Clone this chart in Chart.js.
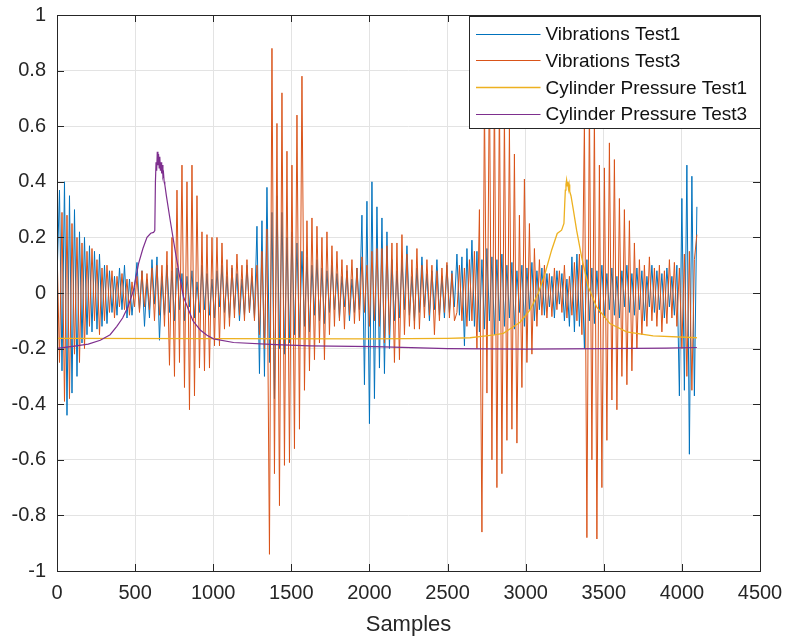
<!DOCTYPE html>
<html>
<head>
<meta charset="utf-8">
<script src="https://cdn.jsdelivr.net/npm/chart.js@4.4.1/dist/chart.umd.min.js"></script>
<style>
  html, body { margin: 0; padding: 0; background: #ffffff; }
  #wrap { width: 785px; height: 639px; }
</style>
</head>
<body>
<div id="wrap"><canvas id="c" width="785" height="639"></canvas></div>
<script>
// Sampling interval of the vibration records (samples between stored values)
const VIB_STEP = 16;

// Vibrations Test1, one value every VIB_STEP samples (0 … 4096)
const vibTest1 = [
  0.05, 0.37, -0.28, 0.40, -0.44, 0.35, -0.36, 0.30, -0.30, 0.22, -0.18, 0.20, -0.15, 0.17, -0.14, 0.15,
  -0.13, 0.14, -0.12, 0.10, -0.11, 0.08, -0.07, 0.06, -0.08, 0.09, -0.06, 0.10, -0.09, 0.05, -0.08, 0.02,
  0.11, -0.06, 0.08, -0.12, 0.05, -0.09, 0.12, -0.04, 0.13, -0.17, 0.06, -0.08, 0.10, -0.07, 0.08, -0.10,
  0.09, -0.06, 0.07, -0.10, 0.06, -0.05, 0.08, -0.09, 0.04, -0.07, 0.10, -0.06, 0.07, -0.08, 0.05, -0.09,
  0.08, -0.05, 0.10, -0.07, 0.06, -0.09, 0.09, -0.06, 0.07, -0.10, 0.05, -0.08, 0.10, -0.07, 0.06, -0.09,
  0.24, -0.29, 0.26, -0.30, 0.38, -0.25, 0.29, -0.38, 0.35, -0.20, 0.29, -0.22, 0.20, -0.18, 0.22, -0.15,
  0.18, -0.16, 0.15, -0.12, 0.13, -0.14, 0.10, -0.08, 0.12, -0.10, 0.09, -0.11, 0.08, -0.07, 0.10, -0.06,
  0.07, -0.09, 0.06, -0.05, 0.08, -0.10, 0.05, -0.07, 0.09, -0.06, 0.28, -0.33, 0.33, -0.47, 0.40, -0.38,
  0.31, -0.27, 0.27, -0.29, 0.22, -0.20, 0.12, -0.10, 0.08, -0.09, 0.12, -0.06, 0.17, -0.08, 0.06, -0.10,
  0.09, -0.07, 0.13, -0.05, 0.07, -0.10, 0.08, -0.06, 0.12, -0.08, 0.06, -0.09, 0.10, -0.07, 0.08, -0.05,
  0.14, -0.08, 0.13, -0.19, 0.16, -0.10, 0.19, -0.12, 0.15, -0.14, 0.12, -0.13, 0.16, -0.10, 0.13, -0.15,
  0.12, -0.10, 0.14, -0.12, 0.10, -0.09, 0.11, -0.13, 0.08, -0.07, 0.10, -0.12, 0.09, -0.06, 0.11, -0.10,
  0.08, -0.06, 0.09, -0.08, 0.07, -0.05, 0.06, -0.09, 0.08, -0.04, 0.07, -0.10, 0.05, -0.12, 0.13, -0.14,
  0.14, -0.12, 0.10, -0.20, 0.12, -0.10, 0.09, -0.11, 0.08, -0.07, 0.10, -0.09, 0.07, -0.06, 0.09, -0.08,
  0.06, -0.09, 0.08, -0.05, 0.10, -0.07, 0.07, -0.08, 0.09, -0.06, 0.08, -0.10, 0.06, -0.05, 0.10, -0.07,
  0.08, -0.06, 0.07, -0.09, 0.09, -0.05, 0.06, -0.08, 0.10, -0.37, 0.34, -0.35, 0.46, -0.58, 0.42, -0.37,
  0.31
];

// Vibrations Test3, one value every VIB_STEP samples (0 … 4096)
const vibTest3 = [
  0.17, -0.25, 0.29, -0.39, 0.28, -0.38, 0.25, -0.22, 0.20, -0.25, 0.18, -0.20, 0.15, -0.12, 0.16, -0.10,
  0.12, -0.15, 0.09, -0.10, 0.10, -0.07, 0.08, -0.09, 0.06, -0.05, 0.07, -0.06, 0.05, -0.08, 0.04, -0.05,
  0.06, -0.07, 0.08, -0.05, 0.07, -0.06, 0.09, -0.10, 0.10, -0.08, 0.10, -0.12, 0.15, -0.26, 0.20, -0.30,
  0.37, -0.25, 0.46, -0.34, 0.40, -0.42, 0.46, -0.37, 0.35, -0.27, 0.22, -0.28, 0.21, -0.27, 0.20, -0.19,
  0.20, -0.19, 0.18, -0.13, 0.12, -0.12, 0.10, -0.09, 0.14, -0.08, 0.10, -0.10, 0.12, -0.07, 0.09, -0.10,
  0.10, -0.15, 0.15, -0.20, 0.23, -0.94, 0.88, -0.65, 0.61, -0.765, 0.72, -0.62, 0.51, -0.61, 0.46, -0.56,
  0.64, -0.49, 0.78, -0.35, 0.26, -0.28, 0.27, -0.24, 0.24, -0.18, 0.20, -0.24, 0.22, -0.15, 0.17, -0.12,
  0.15, -0.10, 0.12, -0.13, 0.10, -0.08, 0.12, -0.11, 0.09, -0.10, 0.13, -0.07, 0.10, -0.12, 0.15, -0.10,
  0.16, -0.12, 0.16, -0.18, 0.17, -0.15, 0.18, -0.25, 0.18, -0.24, 0.21, -0.15, 0.14, -0.12, 0.12, -0.13,
  0.16, -0.13, 0.10, -0.09, 0.12, -0.08, 0.10, -0.15, 0.08, -0.10, 0.09, -0.07, 0.11, -0.09, 0.07, -0.10,
  -0.07, 0.10, -0.10, 0.09, -0.12, 0.12, -0.10, 0.15, -0.20, 0.30, -0.86, 0.70, -0.36, 0.80, -0.60, 0.75,
  -0.70, 0.72, -0.65, 0.65, -0.53, 0.60, -0.49, 0.50, -0.54, 0.28, -0.34, 0.41, -0.25, 0.25, -0.22, 0.16,
  -0.12, 0.12, -0.08, 0.10, -0.09, 0.07, -0.085, 0.09, -0.06, 0.08, -0.07, 0.10, -0.09, 0.06, -0.08, 0.11,
  -0.10, 0.14, -0.15, 0.62, -0.88, 0.70, -0.60, 0.65, -0.885, 0.46, -0.70, 0.45, -0.53, 0.54, -0.385, 0.48,
  -0.42, 0.34, -0.30, 0.30, -0.33, 0.26, -0.28, 0.18, -0.20, 0.12, -0.15, 0.10, -0.12, 0.13, -0.10, 0.09,
  -0.12, 0.10, -0.14, 0.08, -0.11, 0.12, -0.09, 0.11, -0.12, 0.09, -0.20, 0.14, -0.30, 0.15, -0.35, 0.12,
  0.21
];

// Cylinder Pressure Test1: sample positions and values
const presTest1X = [0, 1000, 2000, 2500, 2644, 2719, 2800, 2857, 2911, 2964,
  3028, 3081, 3124, 3166, 3202, 3230, 3245, 3250, 3254, 3258,
  3262, 3266, 3270, 3274, 3278, 3282, 3290, 3305, 3326, 3358,
  3401, 3454, 3539, 3646, 3816, 4096];
const presTest1Y = [-0.163, -0.164, -0.165, -0.163, -0.161, -0.156, -0.151, -0.145, -0.125, -0.105,
  -0.061, 0.0, 0.07, 0.154, 0.214, 0.226, 0.25, 0.32, 0.37, 0.39,
  0.406, 0.385, 0.40, 0.375, 0.39, 0.365, 0.35, 0.30, 0.226, 0.13,
  0.022, -0.05, -0.11, -0.14, -0.154, -0.161];

// Cylinder Pressure Test3: sample positions and values
const presTest3X = [0, 100, 200, 277, 340, 383, 420, 454, 490, 522,
  550, 576, 600, 618, 626, 630, 634, 638, 642, 646,
  650, 654, 658, 662, 666, 670, 674, 678, 682, 686,
  690, 700, 725, 757, 785, 810, 842, 870, 917, 960,
  1002, 1130, 1400, 1620, 2036, 2500, 3000, 3500, 3900, 4096];
const presTest3Y = [-0.199, -0.192, -0.184, -0.170, -0.150, -0.120, -0.090, -0.050, 0.010, 0.106,
  0.160, 0.200, 0.215, 0.218, 0.225, 0.400, 0.470, 0.440, 0.508, 0.460,
  0.500, 0.450, 0.490, 0.440, 0.470, 0.430, 0.460, 0.420, 0.430, 0.400,
  0.390, 0.350, 0.260, 0.150, 0.060, -0.014, -0.060, -0.100, -0.133, -0.152,
  -0.165, -0.178, -0.186, -0.190, -0.193, -0.200, -0.202, -0.200, -0.198, -0.196];

// Axis ranges and tick spacing
const xTicks = { min: 0, max: 4500, step: 500 };
const yTicks = { min: -1, max: 1, step: 0.2 };

const seriesLabels = ['Vibrations Test1', 'Vibrations Test3', 'Cylinder Pressure Test1', 'Cylinder Pressure Test3'];
const seriesColors = ['#0072BD', '#D95319', '#EDB120', '#7E2F8E'];

const FONT = '"Liberation Sans", Arial, Helvetica, sans-serif';
const INK = '#262626';

const stepSeries = vals => vals.map((v, i) => ({ x: i * VIB_STEP, y: v }));
const xySeries = (xs, ys) => xs.map((x, i) => ({ x: x, y: ys[i] }));

// Box around the plot area with inward tick marks on all four sides
const axesBox = {
  id: 'axesBox',
  afterDatasetsDraw(chart) {
    const { ctx, chartArea: a, scales } = chart;
    const sx = scales.x, sy = scales.y;
    const L = 7;
    ctx.save();
    ctx.strokeStyle = INK;
    ctx.lineWidth = 1;
    ctx.beginPath();
    sx.ticks.forEach(t => {
      const px = Math.round(sx.getPixelForValue(t.value)) + 0.5;
      ctx.moveTo(px, a.bottom); ctx.lineTo(px, a.bottom - L);
      ctx.moveTo(px, a.top); ctx.lineTo(px, a.top + L);
    });
    sy.ticks.forEach(t => {
      const py = Math.round(sy.getPixelForValue(t.value)) + 0.5;
      ctx.moveTo(a.left, py); ctx.lineTo(a.left + L, py);
      ctx.moveTo(a.right, py); ctx.lineTo(a.right - L, py);
    });
    ctx.stroke();
    ctx.strokeRect(Math.round(a.left) + 0.5, Math.round(a.top) + 0.5,
      Math.round(a.right - a.left), Math.round(a.bottom - a.top));
    ctx.restore();
  }
};

// Legend box in the upper right corner of the plot area
const cornerLegend = {
  id: 'cornerLegend',
  afterDraw(chart) {
    const { ctx, chartArea: a } = chart;
    const w = 291, h = 112;
    const x0 = Math.round(a.right) - w + 0.5, y0 = Math.round(a.top) + 1.5;
    ctx.save();
    ctx.fillStyle = '#ffffff';
    ctx.fillRect(x0, y0, w, h);
    ctx.strokeStyle = INK;
    ctx.lineWidth = 1;
    ctx.strokeRect(x0, y0, w, h);
    ctx.font = '19px ' + FONT;
    ctx.textBaseline = 'middle';
    ctx.textAlign = 'left';
    chart.data.datasets.forEach((ds, i) => {
      const cy = y0 + 17 + i * 26.9;
      ctx.strokeStyle = ds.borderColor;
      ctx.lineWidth = ds.borderWidth;
      ctx.beginPath();
      ctx.moveTo(x0 + 6.5, Math.round(cy) + 0.5);
      ctx.lineTo(x0 + 71, Math.round(cy) + 0.5);
      ctx.stroke();
      ctx.fillStyle = '#111111';
      ctx.fillText(ds.label, x0 + 76, cy + 1);
    });
    ctx.restore();
  }
};

new Chart(document.getElementById('c'), {
  type: 'line',
  data: {
    datasets: [
      { label: seriesLabels[0], data: stepSeries(vibTest1), borderColor: seriesColors[0], borderWidth: 1, order: 4 },
      { label: seriesLabels[1], data: stepSeries(vibTest3), borderColor: seriesColors[1], borderWidth: 1, order: 3 },
      { label: seriesLabels[2], data: xySeries(presTest1X, presTest1Y), borderColor: seriesColors[2], borderWidth: 1.3, order: 2 },
      { label: seriesLabels[3], data: xySeries(presTest3X, presTest3Y), borderColor: seriesColors[3], borderWidth: 1.2, order: 1 }
    ]
  },
  options: {
    responsive: false,
    animation: false,
    events: [],
    elements: {
      point: { radius: 0, hoverRadius: 0 },
      line: { tension: 0, fill: false, borderJoinStyle: 'miter' }
    },
    layout: { padding: { left: 0, top: 15, right: 25, bottom: 0 } },
    plugins: {
      legend: { display: false },
      tooltip: { enabled: false }
    },
    scales: {
      x: {
        type: 'linear',
        min: xTicks.min, max: xTicks.max,
        border: { display: false },
        grid: { color: '#e3e3e3', lineWidth: 1, drawTicks: false },
        ticks: {
          stepSize: xTicks.step, padding: 10, color: INK,
          font: { family: FONT, size: 20 },
          maxRotation: 0,
          callback: v => String(v)
        },
        title: {
          display: true, text: 'Samples', color: INK,
          font: { family: FONT, size: 22 },
          padding: { top: 0, bottom: 1 }
        },
        afterFit: s => { s.height = 68; s.paddingLeft = 0; s.paddingRight = 0; }
      },
      y: {
        type: 'linear',
        min: yTicks.min, max: yTicks.max,
        border: { display: false },
        grid: { color: '#e3e3e3', lineWidth: 1, drawTicks: false },
        ticks: {
          stepSize: yTicks.step, padding: 11, color: INK,
          font: { family: FONT, size: 20 },
          callback: v => String(Math.round(v * 10) / 10)
        },
        afterFit: s => { s.width = 57; s.paddingTop = 0; s.paddingBottom = 0; }
      }
    }
  },
  plugins: [axesBox, cornerLegend]
});
</script>
</body>
</html>
